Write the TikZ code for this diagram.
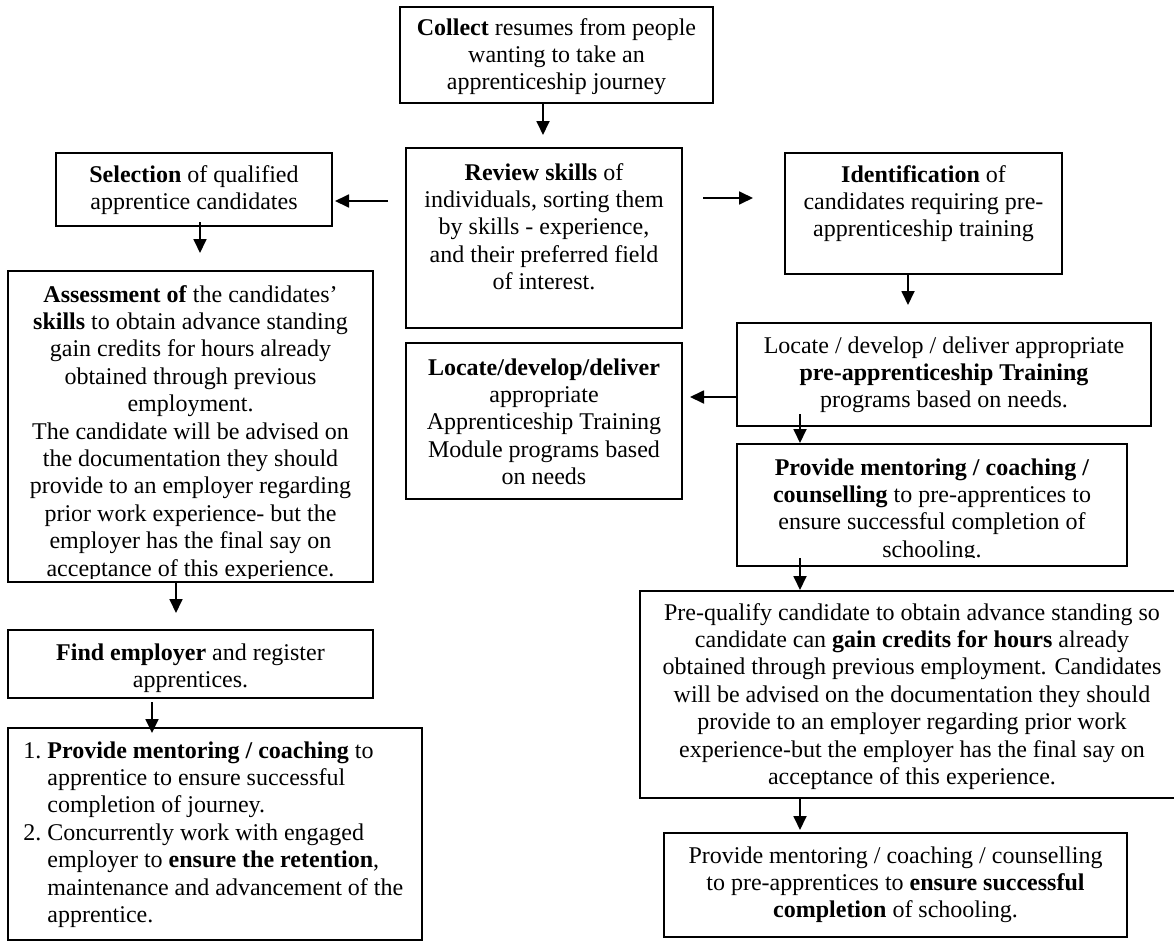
\documentclass[tikz,border=0pt]{standalone}
\usepackage{fontspec}
\setmainfont{Liberation Serif}
\usetikzlibrary{arrows.meta,calc,fit}

\begin{document}
\begin{tikzpicture}[x=0.5pt,y=-0.5pt,
  box/.style={draw, line width=0.9pt, inner sep=0pt, outer sep=0pt},
  txt/.style={anchor=north, inner sep=0pt, align=center,
              font=\fontsize{12pt}{13.7pt}\selectfont},
  arr/.style={line width=0.9pt, -{Triangle[length=7pt,width=6.5pt]}}]

\useasboundingbox (0,0) rectangle (1174,942);

% ---------- boxes ----------
\node[box, fit={(400,7) (713,103)}]    (b1)  {};
\node[box, fit={(406,148) (682,328)}]  (b2)  {};
\node[box, fit={(56,153) (332,226)}]   (b3)  {};
\node[box, fit={(785,153) (1062,274)}] (b4)  {};
\node[box, fit={(8,271) (373,582)}]    (b5)  {};
\node[box, fit={(406,343) (682,499)}]  (b6)  {};
\node[box, fit={(737,323) (1151,426)}] (b7)  {};
\node[box, fit={(737,444) (1127,566)}] (b8)  {};
\node[box, fit={(640,591) (1184,798)}] (b9)  {};
\node[box, fit={(664,833) (1127,937)}] (b10) {};
\node[box, fit={(8,630) (373,698)}]    (b11) {};
\node[box, fit={(8,728) (422,940)}]    (b12) {};

% ---------- texts ----------
\node[txt] (t1) at ($(b1.north)+(0,8.5)$)
  {\strut\textbf{Collect} resumes from people\\wanting to take an\\apprenticeship journey};
\node[txt] (t2) at ($(b2.north)+(0,12.5)$)
  {\strut\textbf{Review skills} of\\individuals, sorting them\\by skills - experience,\\and their preferred field\\of interest.};
\node[txt] (t3) at ($(b3.north)+(0,9.5)$)
  {\strut\textbf{Selection} of qualified\\apprentice candidates};
\node[txt] (t4) at ($(b4.north)+(0,9.5)$)
  {\strut\textbf{Identification} of\\candidates requiring pre-\\apprenticeship training};
\begin{scope}
  \clip (b5.north west) rectangle ($(b5.south east)+(0,-4)$);
  \node[txt] (t5) at ($(b5.north)+(0,11.5)$)
    {\strut\textbf{Assessment of} the candidates’\\\textbf{skills} to obtain advance standing\\gain credits for hours already\\obtained through previous\\employment.\\The candidate will be advised on\\the documentation they should\\provide to an employer regarding\\prior work experience- but the\\employer has the final say on\\acceptance of this experience.};
\end{scope}
\node[txt] (t6) at ($(b6.north)+(0,12.5)$)
  {\strut\textbf{Locate/develop/deliver}\\appropriate\\Apprenticeship Training\\Module programs based\\on needs};
\node[txt] (t7) at ($(b7.north)+(0,10.5)$)
  {\strut Locate / develop / deliver appropriate\\\textbf{pre-apprenticeship Training}\\programs based on needs.};
\begin{scope}
  \clip (b8.north west) rectangle ($(b8.south east)+(0,-9)$);
  \node[txt] (t8) at ($(b8.north)+(0,11.5)$)
    {\strut\textbf{Provide mentoring / coaching /}\\\textbf{counselling} to pre-apprentices to\\ensure successful completion of\\schooling.};
\end{scope}
\node[txt] (t9) at ($(b9.north)+(0,9.5)$)
  {\strut Pre-qualify candidate to obtain advance standing so\\candidate can \textbf{gain credits for hours} already\\obtained through previous employment. Candidates\\will be advised on the documentation they should\\provide to an employer regarding prior work\\experience-but the employer has the final say on\\acceptance of this experience.};
\node[txt] (t10) at ($(b10.north)+(0,10.5)$)
  {\strut Provide mentoring / coaching / counselling\\to pre-apprentices to \textbf{ensure successful}\\\textbf{completion} of schooling.};
\node[txt] (t11) at ($(b11.north)+(0,10.5)$)
  {\strut\textbf{Find employer} and register\\apprentices.};
\node[txt, anchor=north west, align=left] (t12) at ($(b12.north west)+(15,10.5)$)
  {\begin{tabular}{@{}p{12pt}@{}l@{}}
   1. & \textbf{Provide mentoring / coaching} to\\
      & apprentice to ensure successful\\
      & completion of journey.\\
   2. & Concurrently work with engaged\\
      & employer to \textbf{ensure the retention},\\
      & maintenance and advancement of the\\
      & apprentice.
   \end{tabular}};

% ---------- connectors ----------
\draw[arr] ($(b1.south)+(-13.5,0)$)  -- ($(b2.north)+(-1,-13)$);
\draw[arr] ($(b2.west)+(-18,-37)$)   -- ($(b3.east)+(3,11.5)$);
\draw[arr] ($(b2.east)+(21,-40)$)    -- ($(b4.west)+(-32,-15.5)$);
\draw[arr] ($(b3.south)+(6,-4)$)     -- ($(b5.north)+(9.5,-18)$);
\draw[arr] ($(b4.south)+(-15.5,0)$)  -- ($(b7.north)+(-36,-18)$);
\draw[arr] ($(b7.west)+(0,22.5)$)    -- ($(b6.east)+(8,-24)$);
\draw[arr] ($(b7.south)+(-144,-12)$) -- ($(b8.north)+(-132,-1)$);
\draw[arr] ($(b8.south)+(-132,-8)$)  -- ($(b9.north)+(-112,-1)$);
\draw[arr] ($(b9.south)+(-112,0)$)   -- ($(b10.north)+(-95.5,-3)$);
\draw[arr] ($(b5.south)+(-14.5,0)$)  -- ($(b11.north)+(-14.5,-17)$);
\draw[arr] ($(b11.south)+(-38.5,4)$) -- ($(b12.north)+(-63,5)$);

\end{tikzpicture}
\end{document}
